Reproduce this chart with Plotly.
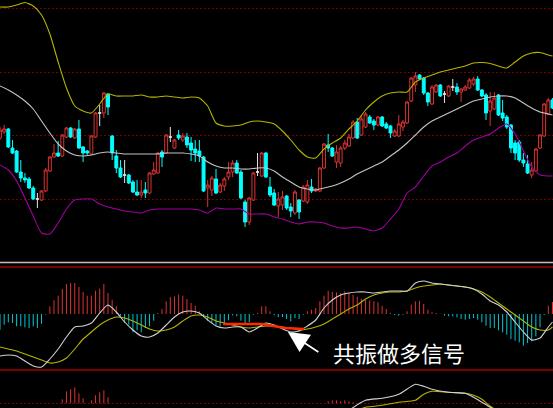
import plotly.graph_objects as go

# ---------------- daily candles (session index 0..133) ----------------
opens = [132, 138, 141, 122, 119, 98, 92, 91, 82, 71,
         70, 79, 99, 113, 117, 114, 133, 142, 132, 141,
         123, 119, 116, 133, 157, 157, 176, 134, 114, 102,
         95, 95, 88, 78, 75, 80, 77, 96, 97, 118,
         117, 133, 122, 135, 130, 133, 127, 121, 119, 113,
         82, 80, 91, 78, 84, 93, 98, 107, 98, 68,
         48, 70, 98, 94, 117, 83, 77, 64, 65, 74,
         63, 57, 70, 69, 68, 83, 79, 79, 102, 125,
         122, 108, 107, 122, 124, 132, 148, 135, 143, 153,
         149, 145, 153, 146, 144, 134, 134, 143, 147, 169,
         185, 195, 192, 177, 166, 178, 185, 176, 174, 183,
         183, 178, 180, 182, 186, 191, 180, 175, 159, 161,
         175, 157, 153, 145, 127, 128, 110, 106, 95, 99,
         122, 134, 156, 170]
highs = [143, 145, 142, 130, 120, 110, 97, 93, 84, 77,
         80, 102, 114, 126, 129, 136, 143, 143, 142, 150,
         124, 120, 135, 158, 165, 178, 177, 135, 120, 110,
         110, 96, 90, 90, 90, 88, 98, 108, 118, 120,
         136, 143, 131, 140, 137, 137, 133, 130, 130, 114,
         90, 94, 101, 87, 93, 108, 110, 110, 100, 70,
         73, 98, 117, 118, 118, 93, 81, 78, 79, 75,
         67, 80, 71, 85, 90, 91, 82, 103, 127, 136,
         123, 125, 124, 130, 136, 150, 152, 155, 158, 155,
         151, 154, 154, 148, 145, 141, 155, 150, 169, 193,
         198, 196, 193, 178, 185, 186, 186, 179, 185, 191,
         187, 182, 185, 192, 193, 194, 181, 177, 178, 178,
         176, 170, 155, 146, 130, 130, 117, 115, 108, 122,
         136, 167, 172, 172]
lows = [130, 136, 122, 116, 97, 88, 87, 81, 70, 62,
        69, 78, 98, 112, 113, 113, 132, 132, 131, 121,
        108, 115, 115, 132, 144, 152, 155, 110, 97, 92,
        87, 86, 77, 74, 72, 72, 76, 95, 96, 103,
        116, 128, 121, 130, 128, 122, 109, 108, 108, 78,
        63, 74, 76, 77, 79, 90, 93, 96, 71, 43,
        45, 69, 94, 93, 92, 73, 64, 53, 60, 60,
        53, 55, 51, 68, 66, 77, 78, 78, 101, 118,
        113, 102, 103, 120, 123, 131, 131, 134, 142, 146,
        140, 144, 143, 141, 132, 133, 133, 139, 146, 168,
        178, 190, 175, 164, 165, 177, 173, 167, 173, 179,
        175, 168, 179, 181, 184, 179, 173, 150, 144, 160,
        154, 149, 141, 117, 110, 108, 103, 96, 92, 98,
        121, 133, 155, 161]
closes = [140, 141, 123, 117, 98, 92, 90, 82, 71, 71,
          79, 100, 113, 117, 114, 135, 142, 133, 141, 122,
          117, 117, 134, 157, 157, 177, 163, 117, 102, 93,
          95, 87, 78, 75, 78, 77, 97, 100, 117, 113,
          135, 133, 130, 132, 134, 125, 120, 117, 114, 79,
          85, 92, 77, 85, 91, 98, 107, 97, 72, 48,
          72, 97, 98, 117, 93, 75, 65, 71, 73, 62,
          59, 78, 58, 83, 85, 79, 81, 102, 126, 122,
          114, 118, 122, 127, 133, 148, 132, 151, 156, 147,
          145, 153, 144, 142, 137, 139, 146, 148, 168, 192,
          194, 191, 177, 168, 183, 185, 174, 176, 184, 183,
          178, 181, 183, 190, 191, 180, 174, 157, 169, 172,
          155, 152, 143, 122, 117, 110, 107, 97, 100, 121,
          135, 166, 170, 162]

# ---------------- Bollinger bands (every other session) ----------------
band_idx = list(range(0, 133, 2)) + [133]
boll_upper = [263, 263, 265, 267.5, 264, 255, 236, 208, 182, 164, 159, 157, 166,
              176, 174, 174, 174, 175, 173, 173, 174, 173, 172, 173, 172,
              164, 147, 144, 144, 145, 148, 149, 148, 146, 139, 130, 120,
              113, 112, 121, 127, 132, 141, 149, 160, 168, 174, 177, 178,
              178, 188, 192, 195, 198, 200, 202, 204, 207, 207.5, 206.5, 204,
              202, 208, 214, 217, 217.5, 215, 214]
boll_mid = [184, 180, 175, 169, 161, 149, 137, 126, 119, 115, 114, 115, 117,
            118, 117, 116, 116, 116, 116, 116, 117, 117, 117, 116, 114,
            108, 104, 102, 102, 101, 101, 102, 102, 99, 93, 88, 83,
            81, 80, 82, 84, 87, 91, 96, 100, 104, 108, 114, 120,
            127, 135, 143, 149, 153, 157, 161, 165, 169, 171, 173, 174,
            174, 172, 167, 162, 158, 156, 155]
boll_lower = [105, 100, 89, 72, 54, 37, 36, 47, 61, 70, 71, 71, 66,
              63, 61, 59, 58, 57, 60, 61, 61, 61, 61, 61, 60,
              57, 62, 61, 61, 61, 56, 56, 56, 53, 51, 48, 46,
              48, 48, 47, 44, 42, 42, 43, 41, 39, 42, 51, 61,
              77, 83, 94, 104, 108, 113, 117, 124, 130, 133, 136, 142,
              146, 136, 119, 103, 95, 94, 94]

# ---------------- MACD ----------------
macd_hist = [-15.7, -10.7, -8.3, -9, -12.3, -12.3, -13.3, -14, -12.3, -14,
             -9.7, -0.5, 7.7, 13.7, 18.3, 25, 30, 31, 31, 27,
             22, 18.3, 18.3, 23.3, 25.3, 30, 21, 14.3, 7.7, -1.7,
             -9, -10.7, -18.3, -16.3, -18.3, -14, -12.3, -6.7, 1, 5,
             12.7, 17, 17.7, 19.3, 18.3, 15, 11, 8.3, 2.7, -3,
             -6.7, -9, -11.3, -12.3, -9, -6.3, -1.3, -2.3, -6.7, -9.7,
             -8.3, -0.7, 1, 7.7, 7.7, 2.7, -1.3, -3, -3, -5,
             -7.3, -4, -5, -0.7, 2.7, 4.3, 6, 12.7, 18.3, 23.3,
             22, 21.7, 21, 22.7, 21, 19.3, 17, 15, 14, 13.5,
             12.7, 11.7, 8.3, 5, 1, -1, -1.7, -0.7, 2.7, 9.3,
             12.7, 13.3, 10, 4.3, 1.7, 1, 0.3, -1.7, -2.3, -2.3,
             -3.3, -5, -5.7, -5, -4, -5.7, -8.3, -11.7, -14, -14,
             -16.3, -18.3, -20.7, -25, -26.7, -28.3, -31.7, -29, -27.3, -22.3,
             -13.3, -1, 8.3, 12]
macd_dif = [-42, -41, -42, -47, -52, -53, -45, -35, -23, -13, -12, -9, 1,
            9, 2, -8, -16, -22, -23, -19, -11, -3, 2, 3, 1,
            -6, -12, -14, -13, -13, -18, -14, -9, -11, -15, -18, -17,
            -12, -6, 6, 14, 19, 21, 22, 22, 21, 22, 23, 23,
            23, 31, 33, 31, 30, 29, 28, 27, 25, 20, 13, 9,
            2, -8, -18, -26, -24, -13, -8]
macd_dea = [-33, -35, -37, -40, -43, -46, -49, -48, -44, -35, -25, -18, -11,
            -6, -3, -4, -7, -11, -15, -17, -16, -13, -7, -2, -1,
            -3, -7, -9, -11, -13, -14, -13, -12, -12, -13, -14, -16,
            -15, -13, -10, -5, 0, 5, 9, 15, 19, 21, 22, 22,
            23, 26, 28, 29, 30, 29, 28, 27, 25, 22, 17, 11,
            5, -1, -7, -13, -16, -16, -13]

# resonance segment highlighted on the MACD pane
signal_idx = [53.7, 63.0, 68.6, 73.2]
signal_val = [-10, -10, -14, -15]
signal_label = "共振做多信号"

# ---------------- lower indicator pane ----------------
sub_bar_idx = [15, 16, 17, 18, 19, 20, 22, 23, 24, 25, 26, 79, 80, 81, 82, 83, 84, 85]
sub_bar_val = [4, 12, 14, 16, 10, 5, 3, 8, 11, 13, 6, 2, 3, 3, 2, 3, 2, 1]
sub_line_idx = [84, 88, 92, 96, 100, 102, 104, 108, 112, 114, 116, 118, 120]
sub_dif = [-7, 3, 5, 9, 19, 17, 14, 11, 10, 6, 1, -4, -10]
sub_dea = [-10, -4, -2, 1, 3, 9, 12, 11, 10, 8, 4, -3, -8]

# ---------------- geometry ----------------
W, H = 553, 408
STEP = 4.154                     # pixels per session
X_RANGE = [0, W / STEP]
MAIN_TOP, MAIN_BOT = 0, 262
MACD_TOP, MACD_BOT = 267, 370


def frac(px):
    return (H - px) / H


RED = "#DC3232"
CYAN = "#00FFFF"
GRID_RED = "#7A0000"

fig = go.Figure()

# candles, split by direction so dojis can be drawn white
groups = {"up": [], "down": [], "flat": []}
for i, (o, c) in enumerate(zip(opens, closes)):
    groups["up" if c > o else "down" if c < o else "flat"].append(i)
styles = {"up": (RED, "#000000"), "down": (CYAN, CYAN), "flat": ("#E6E6E6", "#E6E6E6")}
for key, ids in groups.items():
    lc, fc = styles[key]
    fig.add_trace(go.Candlestick(
        x=ids,
        open=[opens[i] for i in ids], high=[highs[i] for i in ids],
        low=[lows[i] for i in ids], close=[closes[i] for i in ids],
        increasing=dict(line=dict(color=lc, width=1), fillcolor=fc),
        decreasing=dict(line=dict(color=lc, width=1), fillcolor=fc),
        whiskerwidth=0, showlegend=False, hoverinfo="skip",
        xaxis="x", yaxis="y"))

for vals, col in ((boll_upper, "#B4B400"), (boll_mid, "#C4C4C4"), (boll_lower, "#A000A0")):
    fig.add_trace(go.Scatter(x=band_idx, y=vals, mode="lines",
                             line=dict(color=col, width=1.1, shape="spline", smoothing=0.6),
                             showlegend=False, hoverinfo="skip", xaxis="x", yaxis="y"))


def stems(idx, vals, positive):
    xs, ys = [], []
    for i, v in zip(idx, vals):
        if v != 0 and (v > 0) == positive:
            xs += [i, i, None]
            ys += [0, v, None]
    return xs, ys


# MACD histogram
for positive, col in ((True, RED), (False, "#00C8D2")):
    xs, ys = stems(range(len(macd_hist)), macd_hist, positive)
    fig.add_trace(go.Scatter(x=xs, y=ys, mode="lines", line=dict(color=col, width=1),
                             showlegend=False, hoverinfo="skip", xaxis="x2", yaxis="y2"))

fig.add_trace(go.Scatter(x=band_idx, y=macd_dea, mode="lines",
                         line=dict(color="#B4B400", width=1.1, shape="spline", smoothing=0.6),
                         showlegend=False, hoverinfo="skip", xaxis="x2", yaxis="y2"))
fig.add_trace(go.Scatter(x=band_idx, y=macd_dif, mode="lines",
                         line=dict(color="#D2D2D2", width=1.1, shape="spline", smoothing=0.6),
                         showlegend=False, hoverinfo="skip", xaxis="x2", yaxis="y2"))
fig.add_trace(go.Scatter(x=signal_idx, y=signal_val, mode="lines",
                         line=dict(color="#FF2A00", width=2.5),
                         showlegend=False, hoverinfo="skip", xaxis="x2", yaxis="y2"))

# lower pane
xs, ys = stems(sub_bar_idx, sub_bar_val, True)
fig.add_trace(go.Scatter(x=xs, y=ys, mode="lines", line=dict(color=RED, width=1),
                         showlegend=False, hoverinfo="skip", xaxis="x3", yaxis="y3"))
fig.add_trace(go.Scatter(x=sub_line_idx, y=sub_dea, mode="lines",
                         line=dict(color="#B4B400", width=1.1, shape="spline", smoothing=0.6),
                         showlegend=False, hoverinfo="skip", xaxis="x3", yaxis="y3"))
fig.add_trace(go.Scatter(x=sub_line_idx, y=sub_dif, mode="lines",
                         line=dict(color="#D2D2D2", width=1.1, shape="spline", smoothing=0.6),
                         showlegend=False, hoverinfo="skip", xaxis="x3", yaxis="y3"))

hidden = dict(showticklabels=False, ticks="", zeroline=False, showline=False,
              showgrid=False, fixedrange=True)
dotted_grid = dict(showgrid=True, gridcolor=GRID_RED, gridwidth=1, griddash="2px,2px")

fig.update_layout(
    width=W, height=H, autosize=False,
    margin=dict(l=0, r=0, t=0, b=0, pad=0),
    paper_bgcolor="#000000", plot_bgcolor="#000000",
    boxgap=0.3, boxgroupgap=0, boxmode="overlay",
    showlegend=False,
    xaxis=dict(hidden, domain=[0, 1], range=X_RANGE, anchor="y", rangeslider=dict(visible=False)),
    xaxis2=dict(hidden, domain=[0, 1], range=X_RANGE, anchor="y2"),
    xaxis3=dict(hidden, domain=[0, 1], range=X_RANGE, anchor="y3"),
    yaxis=dict(hidden, domain=[frac(MAIN_BOT), frac(MAIN_TOP)], range=[8, 270],
               tickvals=[70.7, 134.3, 197.7, 261.7], **dotted_grid),
    yaxis2=dict(hidden, domain=[frac(MACD_BOT), frac(MACD_TOP)], range=[-56, 47]),
    yaxis3=dict(hidden, domain=[0, frac(MACD_BOT)], range=[-4.7, 33.3],
                tickvals=[0], **dotted_grid),
)

# pane separators
for py, col in ((262.5, "#BEBEBE"), (267, "#A00000"), (370, "#A00000")):
    fig.add_shape(type="line", xref="paper", yref="paper", x0=0, x1=1,
                  y0=frac(py), y1=frac(py), line=dict(color=col, width=1.5))

# arrow + caption for the resonance signal
fig.add_annotation(x=69.3, y=-18, xref="x2", yref="y2", ax=32, ay=21,
                   text="", showarrow=True, arrowhead=2, arrowsize=2.6, arrowwidth=1.6,
                   arrowcolor="#FFFFFF")
fig.add_annotation(x=331 / W, y=frac(352), xref="paper", yref="paper",
                   text=signal_label, showarrow=False, xanchor="left", yanchor="middle",
                   font=dict(family="Noto Sans CJK SC", size=22, color="#FFFFFF"))

fig.write_html("out.html")
